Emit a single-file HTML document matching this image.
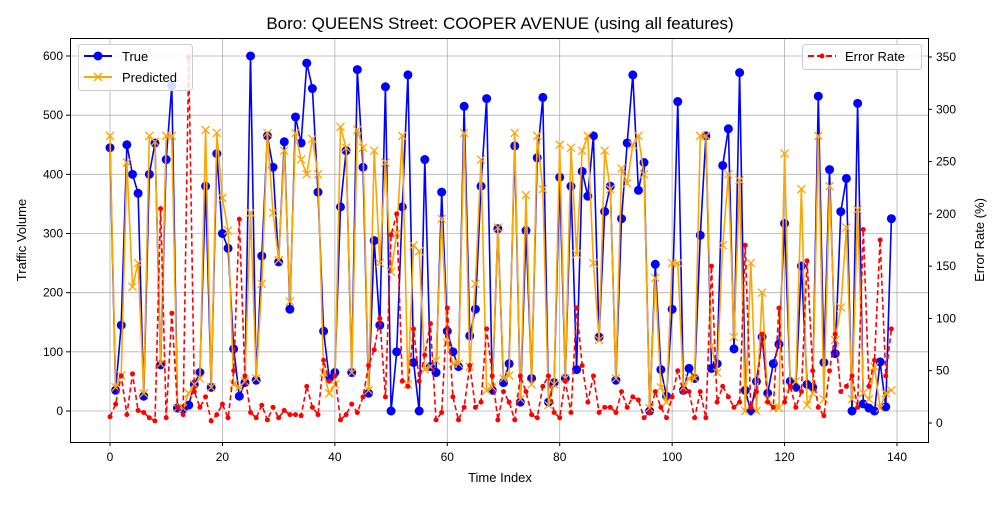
<!DOCTYPE html>
<html><head><meta charset="utf-8"><style>
body{margin:0;background:#fff;font-family:"Liberation Sans",sans-serif}
svg text{font-family:"Liberation Sans",sans-serif}
</style></head><body>
<svg id="c" width="1000" height="500" xmlns="http://www.w3.org/2000/svg">
<rect width="1000" height="500" fill="#fff"/>
<text x="500" y="29" font-size="17" text-anchor="middle">Boro: QUEENS Street: COOPER AVENUE (using all features)</text>
<text x="500" y="482" font-size="13" text-anchor="middle">Time Index</text>
<text transform="translate(26,240) rotate(-90)" font-size="13" text-anchor="middle">Traffic Volume</text>
<text transform="translate(984,240) rotate(-90)" font-size="13" text-anchor="middle">Error Rate (%)</text>
<g id="grid"></g><g id="marks"></g><g id="axes"></g>
<rect x="70.5" y="38.5" width="858" height="404" fill="none" stroke="#000" stroke-width="1"/>
<g>
<rect x="78.5" y="44.5" width="114" height="46" rx="3" fill="#fff" fill-opacity="0.85" stroke="#ccc"/>
<g><line x1="84" y1="56" x2="112" y2="56" stroke="#0000ff" stroke-width="2"/><circle cx="98" cy="56" r="4.5" fill="#0000ff"/><text x="122" y="61" font-size="13">True</text></g>
<g><line x1="84" y1="77" x2="112" y2="77" stroke="orange" stroke-width="2"/><path d="M94,73 L102,81 M94,81 L102,73" stroke="orange" stroke-width="1.5"/><text x="122" y="82" font-size="13">Predicted</text></g>
</g>
<g>
<rect x="802.5" y="44.5" width="119" height="25" rx="3" fill="#fff" fill-opacity="0.85" stroke="#ccc"/>
<g><line x1="808" y1="56" x2="836" y2="56" stroke="red" stroke-width="2" stroke-dasharray="6,3"/><circle cx="822" cy="56" r="2.5" fill="red"/><text x="845" y="61" font-size="13">Error Rate</text></g>
</g>
</svg>
<script>
const trueVals=[445,35,145,450,400,368,25,400,453,78,425,550,5,3,10,45,65,380,40,435,300,275,105,25,48,600,52,262,465,412,252,455,172,497,453,588,545,370,135,55,65,345,440,65,577,412,30,288,145,548,0,100,345,568,82,0,425,75,65,370,135,100,75,515,127,172,380,528,35,308,48,80,448,15,305,55,428,530,15,48,395,55,380,70,405,363,465,125,337,380,52,325,453,568,373,420,0,248,70,25,172,523,35,72,55,297,465,72,80,415,477,105,572,35,0,50,125,30,80,113,317,50,40,245,45,40,532,82,408,97,337,393,0,520,12,5,0,83,7,325];
const predVals=[465,40,60,420,210,250,30,465,455,80,465,465,5,5,30,45,55,475,40,470,360,305,45,40,50,335,55,215,470,335,255,440,185,470,425,400,460,400,65,30,45,480,445,65,475,445,35,440,250,420,235,300,465,45,280,270,70,75,85,325,115,80,80,470,75,215,425,35,40,310,55,60,470,20,365,45,465,375,10,45,450,55,445,265,440,465,250,120,440,375,55,410,385,450,465,400,5,225,40,15,250,250,40,55,55,465,465,110,65,280,400,125,390,0,250,0,200,20,5,5,435,40,50,375,10,30,465,20,380,120,175,310,20,340,30,20,75,5,30,35];
const errVals=[6,18,45,8,47,12,10,5,2,205,5,105,15,8,350,30,15,25,2,8,18,5,50,195,45,10,5,17,3,15,5,12,8,8,7,35,15,8,60,40,45,3,8,18,10,25,55,70,100,25,180,200,40,35,90,40,65,95,3,10,110,25,3,15,55,15,20,90,45,3,30,20,3,45,30,8,5,35,45,10,5,40,10,110,55,20,45,10,15,15,10,30,15,25,22,5,10,30,15,5,25,50,30,30,5,30,5,150,20,35,25,15,20,170,15,30,85,20,15,110,20,35,15,30,155,50,15,7,50,85,30,35,45,15,185,35,60,175,45,90];
const xTicks=[0,20,40,60,80,100,120,140];
const yTicks=[0,100,200,300,400,500,600];
const y2Ticks=[0,50,100,150,200,250,300,350];
const NS="http://www.w3.org/2000/svg";
const X=i=>110+i*(787/140);
const Y=v=>411-v*(355/600);
const Y2=v=>423-v*(366/350);
function mk(tag,attrs,parent){const e=document.createElementNS(NS,tag);for(const k in attrs)e.setAttribute(k,attrs[k]);parent.appendChild(e);return e;}
const grid=document.getElementById('grid'),marks=document.getElementById('marks'),axes=document.getElementById('axes');
xTicks.forEach(t=>{const x=X(t);
 const g=mk('line',{x1:x,x2:x,y1:38,y2:442,stroke:'#b0b0b0','stroke-width':0.8},grid);
 
 
 mk('line',{x1:x,x2:x,y1:442,y2:446,stroke:'#000'},axes);
 const tx=mk('text',{x:x,y:461,'font-size':12,'text-anchor':'middle'},axes);tx.textContent=t;
 
 });
yTicks.forEach(t=>{const y=Y(t);
 const g=mk('line',{x1:70,x2:928,y1:y,y2:y,stroke:'#b0b0b0','stroke-width':0.8},grid);
 
 
 mk('line',{x1:66,x2:70,y1:y,y2:y,stroke:'#000'},axes);
 const tx=mk('text',{x:63,y:y+4,'font-size':12,'text-anchor':'end'},axes);tx.textContent=t;
 
 });
y2Ticks.forEach(t=>{const y=Y2(t);
 mk('line',{x1:928,x2:932,y1:y,y2:y,stroke:'#000'},axes);
 const tx=mk('text',{x:936,y:y+4,'font-size':12},axes);tx.textContent=t;
 
 });
function line(vals,fy,color,extra,name){const p=vals.map((v,i)=>X(i).toFixed(1)+','+fy(v).toFixed(1)).join(' ');
 const l=mk('polyline',Object.assign({points:p,fill:'none',stroke:color,'stroke-width':1.6},extra),marks);
 
 }
line(trueVals,Y,'#0000ff',{},'true-line');
trueVals.forEach((v,i)=>{const c=mk('circle',{cx:X(i),cy:Y(v),r:4.5,fill:'#0000ff'},marks);
 
 });
line(predVals,Y,'orange',{},'predicted-line');
predVals.forEach((v,i)=>{const x=X(i),y=Y(v);const m=mk('path',{d:`M${x-4},${y-4}L${x+4},${y+4}M${x-4},${y+4}L${x+4},${y-4}`,stroke:'orange','stroke-width':1.3},marks);
 
 });
line(errVals,Y2,'red',{'stroke-dasharray':'5,3'},'error-rate-line');
errVals.forEach((v,i)=>{const c=mk('circle',{cx:X(i),cy:Y2(v),r:2.5,fill:'red'},marks);
 
 });
</script>
</body></html>
